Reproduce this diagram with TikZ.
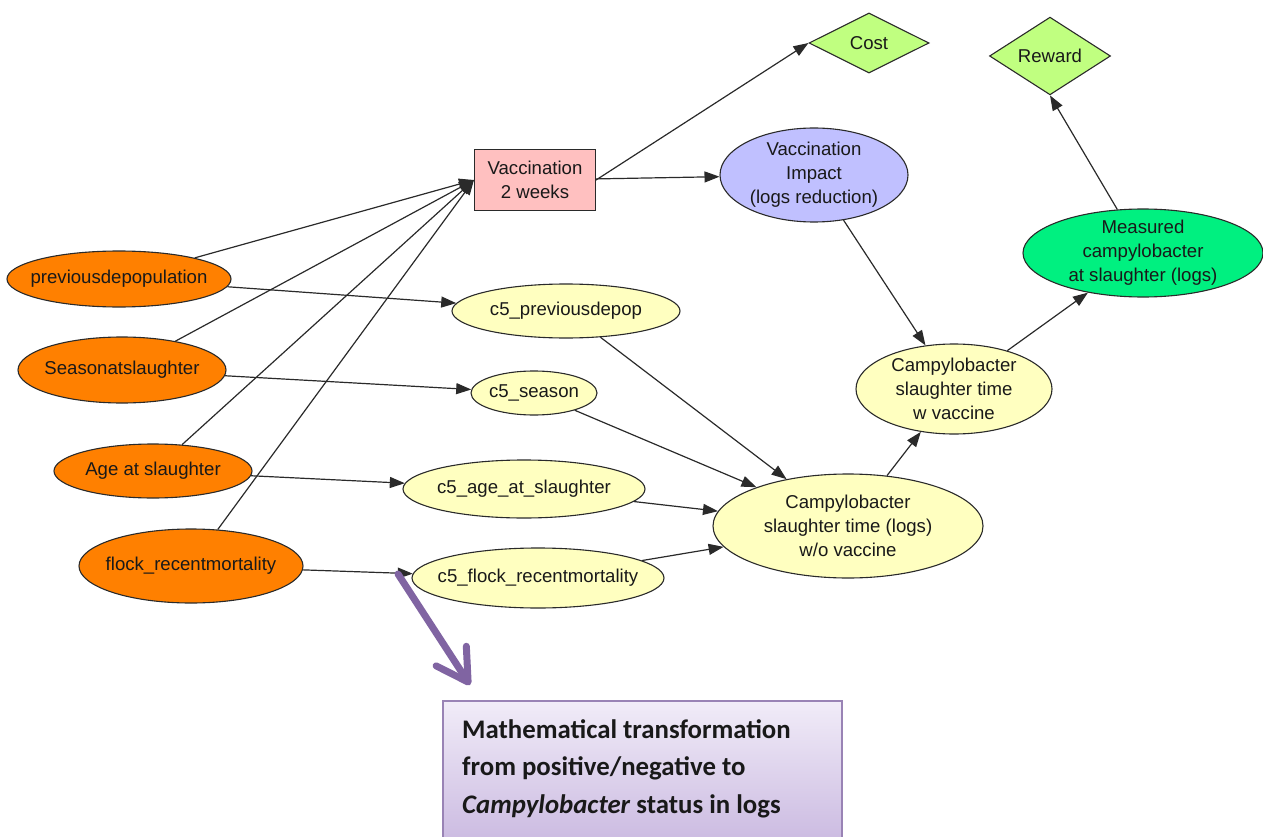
\documentclass[tikz,border=0pt]{standalone}
\usepackage{fontspec}
\setmainfont{Liberation Sans}
\newfontfamily\notefont{Carlito}
\usetikzlibrary{shapes.geometric,arrows.meta}

\definecolor{inputorange}{HTML}{FF8000}
\definecolor{chanceyellow}{HTML}{FFFFC0}
\definecolor{decisionpink}{HTML}{FFC0C0}
\definecolor{impactblue}{HTML}{C0C0FF}
\definecolor{measuregreen}{HTML}{00F080}
\definecolor{utilitygreen}{HTML}{C0FF80}
\definecolor{notepurple}{HTML}{8064A2}
\definecolor{notetop}{HTML}{F1ECF8}
\definecolor{notebottom}{HTML}{C6B4DE}
\definecolor{edgegray}{HTML}{2A2A2A}

\begin{document}
\begin{tikzpicture}[x=1pt,y=-1pt,
  every node/.style={inner sep=0pt, align=center, text=black!90,
    font=\fontsize{18.6}{24}\selectfont},
  outline/.style={draw=edgegray, line width=1.1pt},
  % the ellipse size is given only by minimum width/height
  oval/.style={outline, ellipse, inner sep=-80pt},
  inputnode/.style={oval, fill=inputorange},
  chancenode/.style={oval, fill=chanceyellow},
  decisionnode/.style={outline, rectangle, fill=decisionpink},
  utilitynode/.style={outline, diamond, fill=utilitygreen},
  link/.style={draw=edgegray, line width=1.2pt, -{Triangle[length=15pt,width=11pt]}},
  pointer/.style={draw=notepurple, line width=7pt, line cap=round,
    -{Straight Barb[length=31pt,width=36pt,round]}},
]
\useasboundingbox (0,0) rectangle (1263,837);
\clip (0,0) rectangle (1263,837);

% explanatory note at the bottom
\node[draw=notepurple!80, line width=1.8pt, top color=notetop, bottom color=notebottom,
  minimum width=399pt, minimum height=160pt, anchor=north west] (note) at (442,700) {};
\node[anchor=north west, align=left, font=\notefont\bfseries\fontsize{26.8}{37.5}\selectfont]
  (notetext) at (462,719)
  {Mathematical transformation\\from positive/negative to\\\textit{Campylobacter} status in logs};

% observed inputs
\node[inputnode, minimum width=224pt, minimum height=56pt] (prev) at (119,279) {previousdepopulation};
\node[inputnode, minimum width=208pt, minimum height=66pt] (season) at (122,370) {Seasonatslaughter};
\node[inputnode, minimum width=198pt, minimum height=54pt] (age) at (153,471) {Age at slaughter};
\node[inputnode, minimum width=224pt, minimum height=74pt] (flock) at (191,566) {flock\_recentmortality};

% transformed inputs
\node[chancenode, minimum width=228pt, minimum height=54pt] (c5p) at (566,311) {c5\_previousdepop};
\node[chancenode, minimum width=126pt, minimum height=44pt] (c5s) at (534,393) {c5\_season};
\node[chancenode, minimum width=242pt, minimum height=58pt] (c5a) at (524,489) {c5\_age\_at\_slaughter};
\node[chancenode, minimum width=252pt, minimum height=60pt] (c5f) at (538,578) {c5\_flock\_recentmortality};

% campylobacter levels
\node[chancenode, minimum width=270pt, minimum height=104pt] (wov) at (848,526)
  {Campylobacter\\slaughter time (logs)\\w/o vaccine};
\node[chancenode, minimum width=196pt, minimum height=90pt] (wv) at (954,389)
  {Campylobacter\\slaughter time\\w vaccine};
\node[oval, fill=measuregreen, minimum width=240pt, minimum height=88pt] (meas) at (1143,253)
  {Measured\\campylobacter\\at slaughter (logs)};

% decision and its effect
\node[decisionnode, minimum width=121pt, minimum height=61pt] (vac) at (535,180) {Vaccination\\2 weeks};
\node[oval, fill=impactblue, minimum width=188pt, minimum height=94pt] (impact) at (814,175)
  {Vaccination\\Impact\\(logs reduction)};

% utilities
\node[utilitynode, minimum width=120pt, minimum height=60pt] (cost) at (869,43) {Cost};
\node[utilitynode, minimum width=121pt, minimum height=58pt] (reward) at (1050,56) {Reward};

% arcs
\draw[link] (prev) -- (vac.west);
\draw[link] (season) -- (vac.west);
\draw[link] (age) -- (vac.west);
\draw[link] (flock) -- (vac.west);
\draw[link] (vac.east) -- (cost.west);
\draw[link] (vac) -- (impact);
\draw[link] (impact) -- (wv);

\draw[link] (prev) -- (c5p);
\draw[link] (season) -- (c5s);
\draw[link] (age) -- (c5a);
\draw[link] (flock) -- (c5f);

\draw[link] (c5p) -- (wov);
\draw[link] (c5s) -- (wov);
\draw[link] (c5a) -- (wov);
\draw[link] (c5f) -- (wov);

\draw[link] (wov) -- (wv);
\draw[link] (wv) -- (meas);
\draw[link] (meas) -- (reward.south);

% pointer to the note
\coordinate (ptrtail) at (398,574);
\coordinate (ptrhead) at (470,685);
\draw[pointer] (ptrtail) -- (ptrhead);
\end{tikzpicture}
\end{document}
